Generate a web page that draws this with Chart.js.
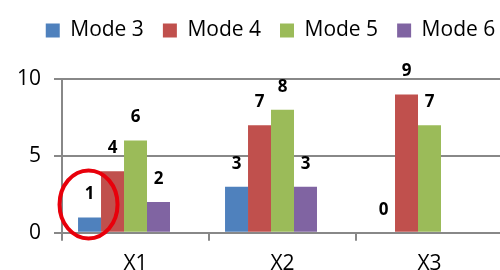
<!DOCTYPE html>
<html>
<head>
<meta charset="utf-8">
<script src="https://cdn.jsdelivr.net/npm/chart.js@4.4.1/dist/chart.umd.min.js"></script>
<style>
    html, body { margin: 0; padding: 0; background: #fff; }
    #wrap { width: 500px; height: 270px; overflow: hidden; }
</style>
</head>
<body>
<div id="wrap"><canvas id="chart" width="503" height="288"></canvas></div>
<script>
const categories = ['X1', 'X2', 'X3'];
const seriesNames = ['Mode 3', 'Mode 4', 'Mode 5', 'Mode 6'];
const mode3 = [1, 3, 0];
const mode4 = [4, 7, 9];
const mode5 = [6, 8, 7];
const mode6 = [2, 3, null];
const yTicks = [0, 5, 10];

const colors = ['#4F81BD', '#C0504D', '#9BBB59', '#8064A2'];
const values = [mode3, mode4, mode5, mode6];

const datasets = values.map((data, i) => ({
    label: seriesNames[i],
    data: data,
    backgroundColor: colors[i],
    borderWidth: 0
}));
// empty fifth series keeps the same slot spacing as the original sheet
datasets.push({ label: '', data: [null, null, null], backgroundColor: 'rgba(0,0,0,0)', borderWidth: 0 });

// extra room between legend and plot, legend nudged right like the original
const legendSpacing = {
    id: 'legendSpacing',
    beforeInit(chart) {
        const legend = chart.legend;
        const fit = legend.fit;
        legend.fit = function () {
            fit.call(this);
            this.height += 28;
        };
        const draw = legend.draw;
        legend.draw = function () {
            this.ctx.save();
            this.ctx.translate(17, 0);
            draw.call(this);
            this.ctx.restore();
        };
    }
};

const valueLabels = {
    id: 'valueLabels',
    afterDatasetsDraw(chart) {
        const ctx = chart.ctx;
        ctx.save();
        ctx.font = 'bold 17px "Open Sans"';
        ctx.fillStyle = '#000';
        ctx.textAlign = 'center';
        ctx.textBaseline = 'middle';
        for (let d = 0; d < seriesNames.length; d++) {
            const meta = chart.getDatasetMeta(d);
            meta.data.forEach((bar, i) => {
                const v = chart.data.datasets[d].data[i];
                if (v === null || v === undefined) return;
                ctx.fillText(String(v), bar.x, bar.y - 23);
            });
        }
        ctx.restore();
    }
};

const circleMark = {
    id: 'circleMark',
    afterDraw(chart) {
        const bar = chart.getDatasetMeta(0).data[0];
        if (!bar) return;
        const ctx = chart.ctx;
        ctx.save();
        ctx.strokeStyle = '#E8000B';
        ctx.lineWidth = 4;
        ctx.beginPath();
        ctx.ellipse(bar.x - 1, bar.y - 13, 29, 34, 0, 0, Math.PI * 2);
        ctx.stroke();
        ctx.restore();
    }
};

new Chart(document.getElementById('chart'), {
    type: 'bar',
    data: {
        labels: categories,
        datasets: datasets
    },
    options: {
        responsive: false,
        animation: false,
        devicePixelRatio: 1,
        layout: {
            padding: { left: 4, top: 1, right: 0, bottom: 0 }
        },
        datasets: {
            bar: {
                categoryPercentage: 0.782,
                barPercentage: 1
            }
        },
        plugins: {
            legend: {
                display: true,
                position: 'top',
                labels: {
                    boxWidth: 14,
                    boxHeight: 14,
                    padding: 19,
                    color: '#000',
                    font: { family: 'Open Sans', size: 21 },
                    filter: item => item.text !== ''
                }
            },
            title: { display: false },
            tooltip: { enabled: false }
        },
        scales: {
            x: {
                grid: {
                    display: true,
                    drawOnChartArea: false,
                    drawTicks: true,
                    tickLength: 8,
                    color: '#888',
                    lineWidth: 2,
                    offset: true
                },
                border: { display: true, color: '#888', width: 2 },
                ticks: {
                    color: '#000',
                    padding: 11,
                    font: { family: 'Open Sans', size: 21 }
                }
            },
            y: {
                min: 0,
                max: 10,
                afterBuildTicks: axis => {
                    axis.ticks = yTicks.map(v => ({ value: v }));
                },
                grid: {
                    color: '#888',
                    lineWidth: 2,
                    tickLength: 8
                },
                border: { display: true, color: '#888', width: 2 },
                ticks: {
                    color: '#000',
                    padding: 13,
                    font: { family: 'Open Sans', size: 21 }
                }
            }
        }
    },
    plugins: [legendSpacing, valueLabels, circleMark]
});
</script>
</body>
</html>
